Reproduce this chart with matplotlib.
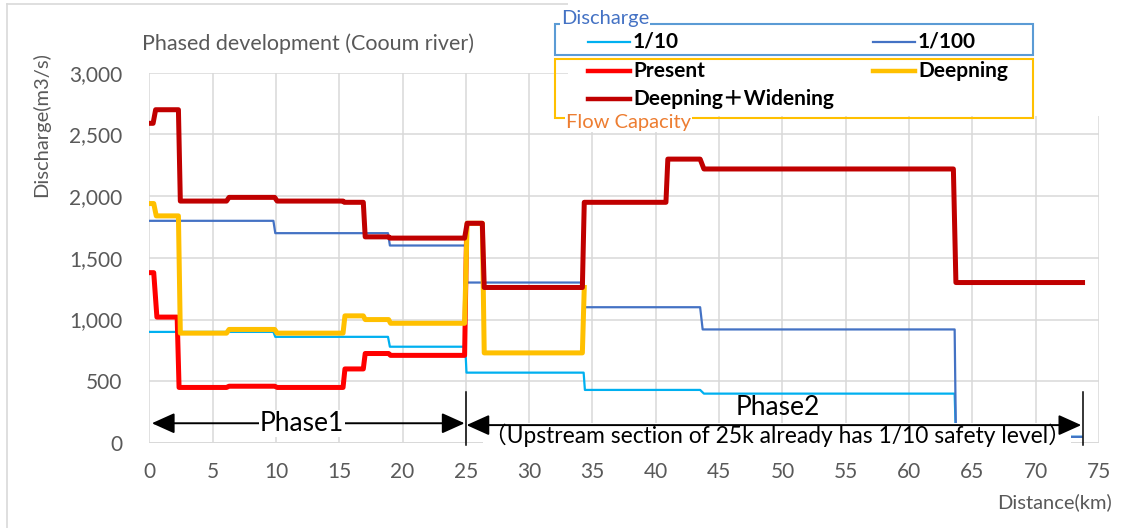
import matplotlib
matplotlib.use("Agg")
import matplotlib.pyplot as plt
from matplotlib.lines import Line2D
from matplotlib.patches import Rectangle
from matplotlib.ticker import StrMethodFormatter, MultipleLocator

plt.rcParams['font.family'] = ['Lato', 'Noto Sans CJK JP', 'DejaVu Sans']

# distance (km) / discharge (m3/s), step profiles along the river
q10_x = [0, 9.8, 9.95, 18.85, 19.0, 24.95, 25.05, 34.3, 34.4, 43.5, 43.8, 63.6, 63.7, 73.6]
q10_y = [900, 900, 860, 860, 780, 780, 570, 570, 430, 430, 400, 400, 50, 50]

q100_x = [0, 9.8, 9.95, 18.85, 19.0, 25.0, 25.1, 34.3, 34.4, 43.5, 43.7, 63.6, 63.7, 73.6]
q100_y = [1800, 1800, 1700, 1700, 1600, 1600, 1300, 1300, 1100, 1100, 920, 920, 50, 50]

present_x = [0, 0.35, 0.6, 2.2, 2.35, 6.1, 6.3, 9.9, 10.1, 15.3, 15.45, 16.9, 17.05, 18.9, 19.05, 24.9, 25.05]
present_y = [1380, 1380, 1020, 1020, 450, 450, 460, 460, 450, 450, 600, 600, 725, 725, 710, 710, 1660]

deep_x = [0, 0.35, 0.55, 2.3, 2.45, 6.1, 6.3, 9.9, 10.1, 15.3, 15.45, 16.9, 17.05, 18.9, 19.05,
          24.9, 25.1, 26.3, 26.45, 34.2, 34.35]
deep_y = [1940, 1940, 1840, 1840, 890, 890, 920, 920, 890, 890, 1030, 1030, 1000, 1000, 970,
          970, 1780, 1780, 730, 730, 1260]

dw_x = [0, 0.3, 0.5, 2.3, 2.45, 6.1, 6.3, 9.9, 10.1, 15.3, 15.4, 16.9, 17.05, 18.9, 19.0,
        24.9, 25.1, 26.3, 26.45, 34.2, 34.35, 40.8, 40.95, 43.5, 43.8, 63.5, 63.7, 73.7]
dw_y = [2590, 2590, 2700, 2700, 1960, 1960, 1990, 1990, 1960, 1960, 1950, 1950, 1670, 1670, 1660,
        1660, 1780, 1780, 1260, 1260, 1950, 1950, 2300, 2300, 2220, 2220, 1300, 1300]

phase1 = (0.2, 24.9)
phase2 = (25.05, 73.6)
phase_split = [25.0, 73.75]

c10, c100 = '#00B0F0', '#4472C4'
c_pres, c_deep, c_dw = '#FF0000', '#FFC000', '#C00000'
gray = '#595959'

W, H = 1134, 528
fig = plt.figure(figsize=(W / 100, H / 100), dpi=100)
ax = fig.add_axes([149.3 / W, 1 - 443 / H, (1099 - 149.3) / W, (443 - 72.7) / H])

ax.plot(q10_x, q10_y, color=c10, lw=1.6, zorder=3)
ax.plot(q100_x, q100_y, color=c100, lw=1.6, zorder=3)
ax.plot(present_x, present_y, color=c_pres, lw=3.6, zorder=4)
ax.plot(deep_x, deep_y, color=c_deep, lw=3.6, zorder=5)
ax.plot(dw_x, dw_y, color=c_dw, lw=3.6, zorder=6)

ax.set_xlim(0, 75)
ax.set_ylim(0, 3000)
ax.xaxis.set_major_locator(MultipleLocator(5))
ax.yaxis.set_major_locator(MultipleLocator(500))
ax.yaxis.set_major_formatter(StrMethodFormatter('{x:,.0f}'))
ax.grid(True, color='#D9D9D9', lw=1.1)
ax.set_axisbelow(True)
for s in ax.spines.values():
    s.set_visible(False)
ax.axhline(0, color='#D9D9D9', lw=1.3, zorder=1)
ax.tick_params(length=0, labelsize=15, labelcolor=gray)
ax.tick_params(axis='y', pad=19.5)
ax.tick_params(axis='x', pad=14)

# phase arrows
arrow = dict(arrowstyle='<|-|>,head_length=1.0,head_width=0.45', color='black', lw=1.4,
             shrinkA=0, shrinkB=0, mutation_scale=14)
ax.annotate('', xy=(phase1[0], 160), xytext=(phase1[1], 160), arrowprops=arrow, zorder=9,
            annotation_clip=False)
ax.annotate('', xy=(phase2[0], 145), xytext=(phase2[1], 145), arrowprops=arrow, zorder=9,
            annotation_clip=False)
for xs in phase_split:
    ax.plot([xs, xs], [-20, 410], color='black', lw=1.1, zorder=9, clip_on=False)

ax.text(12.05, 160, 'Phase1', ha='center', va='center', fontsize=19, zorder=10,
        bbox=dict(facecolor='white', edgecolor='none', pad=0.5))
ax.text(49.6, 285, 'Phase2', ha='center', va='center', fontsize=19, zorder=10)
ax.text(49.6, 62, '（Upstream section of 25k already has 1/10 safety level）', ha='center',
        va='center', fontsize=16.4, zorder=8,
        bbox=dict(facecolor='white', edgecolor='none', pad=0.3))

# chart frame and titles
fig.add_artist(Line2D([7 / W, 1], [1 - 4 / H, 1 - 4 / H], color='#D9D9D9', lw=1.2))
fig.add_artist(Line2D([7 / W, 7 / W], [0, 1 - 4 / H], color='#D9D9D9', lw=1.2))
fig.text(141.7 / W, 1 - 43.3 / H, 'Phased development (Cooum river)', ha='left', va='center',
         fontsize=15.5, color=gray)
fig.text(41 / W, 1 - 125 / H, 'Discharge(m3/s)', rotation=90, ha='center', va='center',
         fontsize=14.5, color=gray)
fig.text(1112 / W, 1 - 502 / H, 'Distance(km)', ha='right', va='center', fontsize=14.5,
         color=gray)

# legend area
fig.add_artist(Rectangle((568 / W, 1 - 116 / H), 1 - 568 / W, 116 / H, transform=fig.transFigure,
                         facecolor='white', edgecolor='none', zorder=2))
fig.add_artist(Rectangle((555 / W, 1 - 55 / H), (1033.3 - 555) / W, (55 - 24.3) / H,
                         transform=fig.transFigure, facecolor='none', edgecolor='#5B9BD5',
                         lw=1.5, zorder=3))
fig.add_artist(Rectangle((555 / W, 1 - 118.3 / H), (1032.5 - 555) / W, (118.3 - 59.3) / H,
                         transform=fig.transFigure, facecolor='none', edgecolor='#FFC000',
                         lw=1.5, zorder=3))
fig.text(560.7 / W, 1 - 18.3 / H, 'Discharge', ha='left', va='center', fontsize=14.5,
         color=c100, zorder=4, bbox=dict(facecolor='white', edgecolor='none', pad=0.5))
fig.text(566 / W, 1 - 122.7 / H, 'Flow Capacity', ha='left', va='center', fontsize=14.5,
         color='#ED7D31', zorder=4, bbox=dict(facecolor='white', edgecolor='none', pad=0.5))

entries = [('1/10', c10, 1.6, 588, 41.7), ('1/100', c100, 1.6, 873, 41.7),
           ('Present', c_pres, 3.2, 588, 70.7), ('Deepning', c_deep, 3.2, 873, 70.7),
           ('Deepning＋Widening', c_dw, 3.2, 588, 99.3)]
for name, col, lw, x0, y0 in entries:
    fig.add_artist(Line2D([x0 / W, (x0 + 42) / W], [1 - y0 / H, 1 - y0 / H], color=col, lw=lw,
                          zorder=4))
    fig.text((x0 + 45) / W, 1 - y0 / H, name, ha='left', va='center', fontsize=15,
             fontweight='bold', color='black', zorder=4)

fig.savefig('out.png', dpi=100)
